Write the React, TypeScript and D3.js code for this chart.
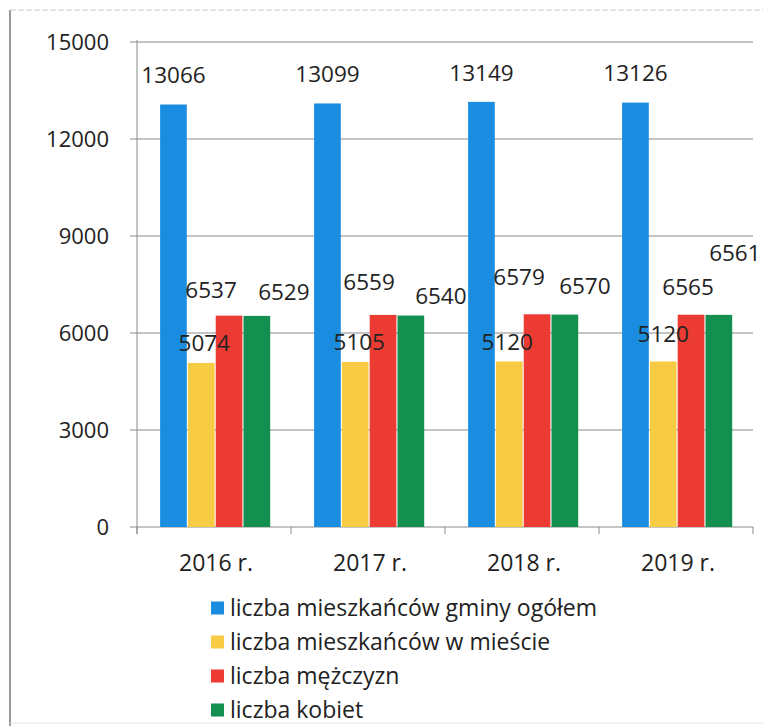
import React from 'react'
import { scaleBand, scaleLinear } from 'd3'

// data
const years = ['2016 r.', '2017 r.', '2018 r.', '2019 r.']
const seriesNames = [
  'liczba mieszkańców gminy ogółem',
  'liczba mieszkańców w mieście',
  'liczba mężczyzn',
  'liczba kobiet',
]
const ogolem = [13066, 13099, 13149, 13126]
const wMiescie = [5074, 5105, 5120, 5120]
const mezczyzni = [6537, 6559, 6579, 6565]
const kobiety = [6529, 6540, 6570, 6561]
const yTicks = [0, 3000, 6000, 9000, 12000, 15000]

const seriesValues = [ogolem, wMiescie, mezczyzni, kobiety]
const colors = ['#1b8de0', '#f8cb45', '#ec3b33', '#13904f']

// hand placed label offsets (dx from bar center, dy from bar top) like in the original
const labelNudge = [
  [[0, -29], [0, -29], [0, -29], [0, -29]],
  [[3, -20], [4, -20], [-2, -19], [0, -27]],
  [[-18, -26], [-14, -33], [-18, -37], [-3, -28]],
  [[27, -24], [30, -19], [20, -28], [16, -62]],
]

const W = 763
const H = 726
const font = '"Open Sans", sans-serif'

const App = () => {
  const left = 137
  const right = 753
  const top = 42
  const bottom = 527

  const x0 = scaleBand().domain(years).range([left, right]).padding(0)
  const bw = x0.bandwidth()
  const x1 = scaleBand()
    .domain(seriesNames)
    .range([bw * 0.15, bw * 0.865])
    .paddingInner(0.04)
  const y = scaleLinear().domain([0, 15000]).range([bottom, top])

  return (
    <svg width={W} height={H} style={{ position: 'absolute', left: 0, top: 0, background: '#fff' }}>
      {/* frame */}
      <line x1={10} x2={10} y1={10} y2={H} stroke="#777" strokeWidth={1.5} />
      <line x1={10} x2={W} y1={10} y2={10} stroke="#c8c8c8" strokeDasharray="6 2" />
      <line x1={10} x2={W} y1={723} y2={723} stroke="#e4e4e4" />

      {/* grid + y axis */}
      {yTicks.map(t => (
        <g key={t}>
          <line x1={left - 7} x2={right} y1={y(t)} y2={y(t)} stroke="#8a8a8a" strokeWidth={1} />
          <text x={109} y={y(t)} dy="0.35em" textAnchor="end" fontFamily={font} fontSize={22} fill="#222">
            {t}
          </text>
        </g>
      ))}
      <line x1={left} x2={left} y1={top - 2} y2={bottom + 7} stroke="#8a8a8a" />
      {[...years.map(d => x0(d) as number), right].map((xx, i) => (
        <line key={i} x1={xx} x2={xx} y1={bottom} y2={bottom + 7} stroke="#8a8a8a" />
      ))}

      {/* bars */}
      {seriesNames.map((s, si) =>
        years.map((yr, yi) => {
          const v = seriesValues[si][yi]
          const bx = (x0(yr) as number) + (x1(s) as number)
          return (
            <rect
              key={s + yr}
              x={bx}
              y={y(v)}
              width={x1.bandwidth()}
              height={bottom - y(v)}
              fill={colors[si]}
            />
          )
        })
      )}

      {/* value labels */}
      {seriesNames.map((s, si) =>
        years.map((yr, yi) => {
          const v = seriesValues[si][yi]
          const cx = (x0(yr) as number) + (x1(s) as number) + x1.bandwidth() / 2
          const [dx, dy] = labelNudge[si][yi]
          return (
            <text
              key={'l' + s + yr}
              x={cx + dx}
              y={y(v) + dy}
              dy="0.35em"
              textAnchor="middle"
              fontFamily={font}
              fontSize={22.5}
              fill="#222"
            >
              {v}
            </text>
          )
        })
      )}

      {/* x labels */}
      {years.map(yr => (
        <text
          key={yr}
          x={(x0(yr) as number) + bw / 2 + 2}
          y={563}
          dy="0.35em"
          textAnchor="middle"
          fontFamily={font}
          fontSize={23}
          fill="#222"
        >
          {yr}
        </text>
      ))}

      {/* legend */}
      {seriesNames.map((s, i) => (
        <g key={s} transform={`translate(211, ${608 + i * 34})`}>
          <rect x={0} y={-6.5} width={13} height={13} fill={colors[i]} />
          <text x={19} y={0} dy="0.35em" fontFamily={font} fontSize={23} fill="#222">
            {s}
          </text>
        </g>
      ))}
    </svg>
  )
}

export default App
